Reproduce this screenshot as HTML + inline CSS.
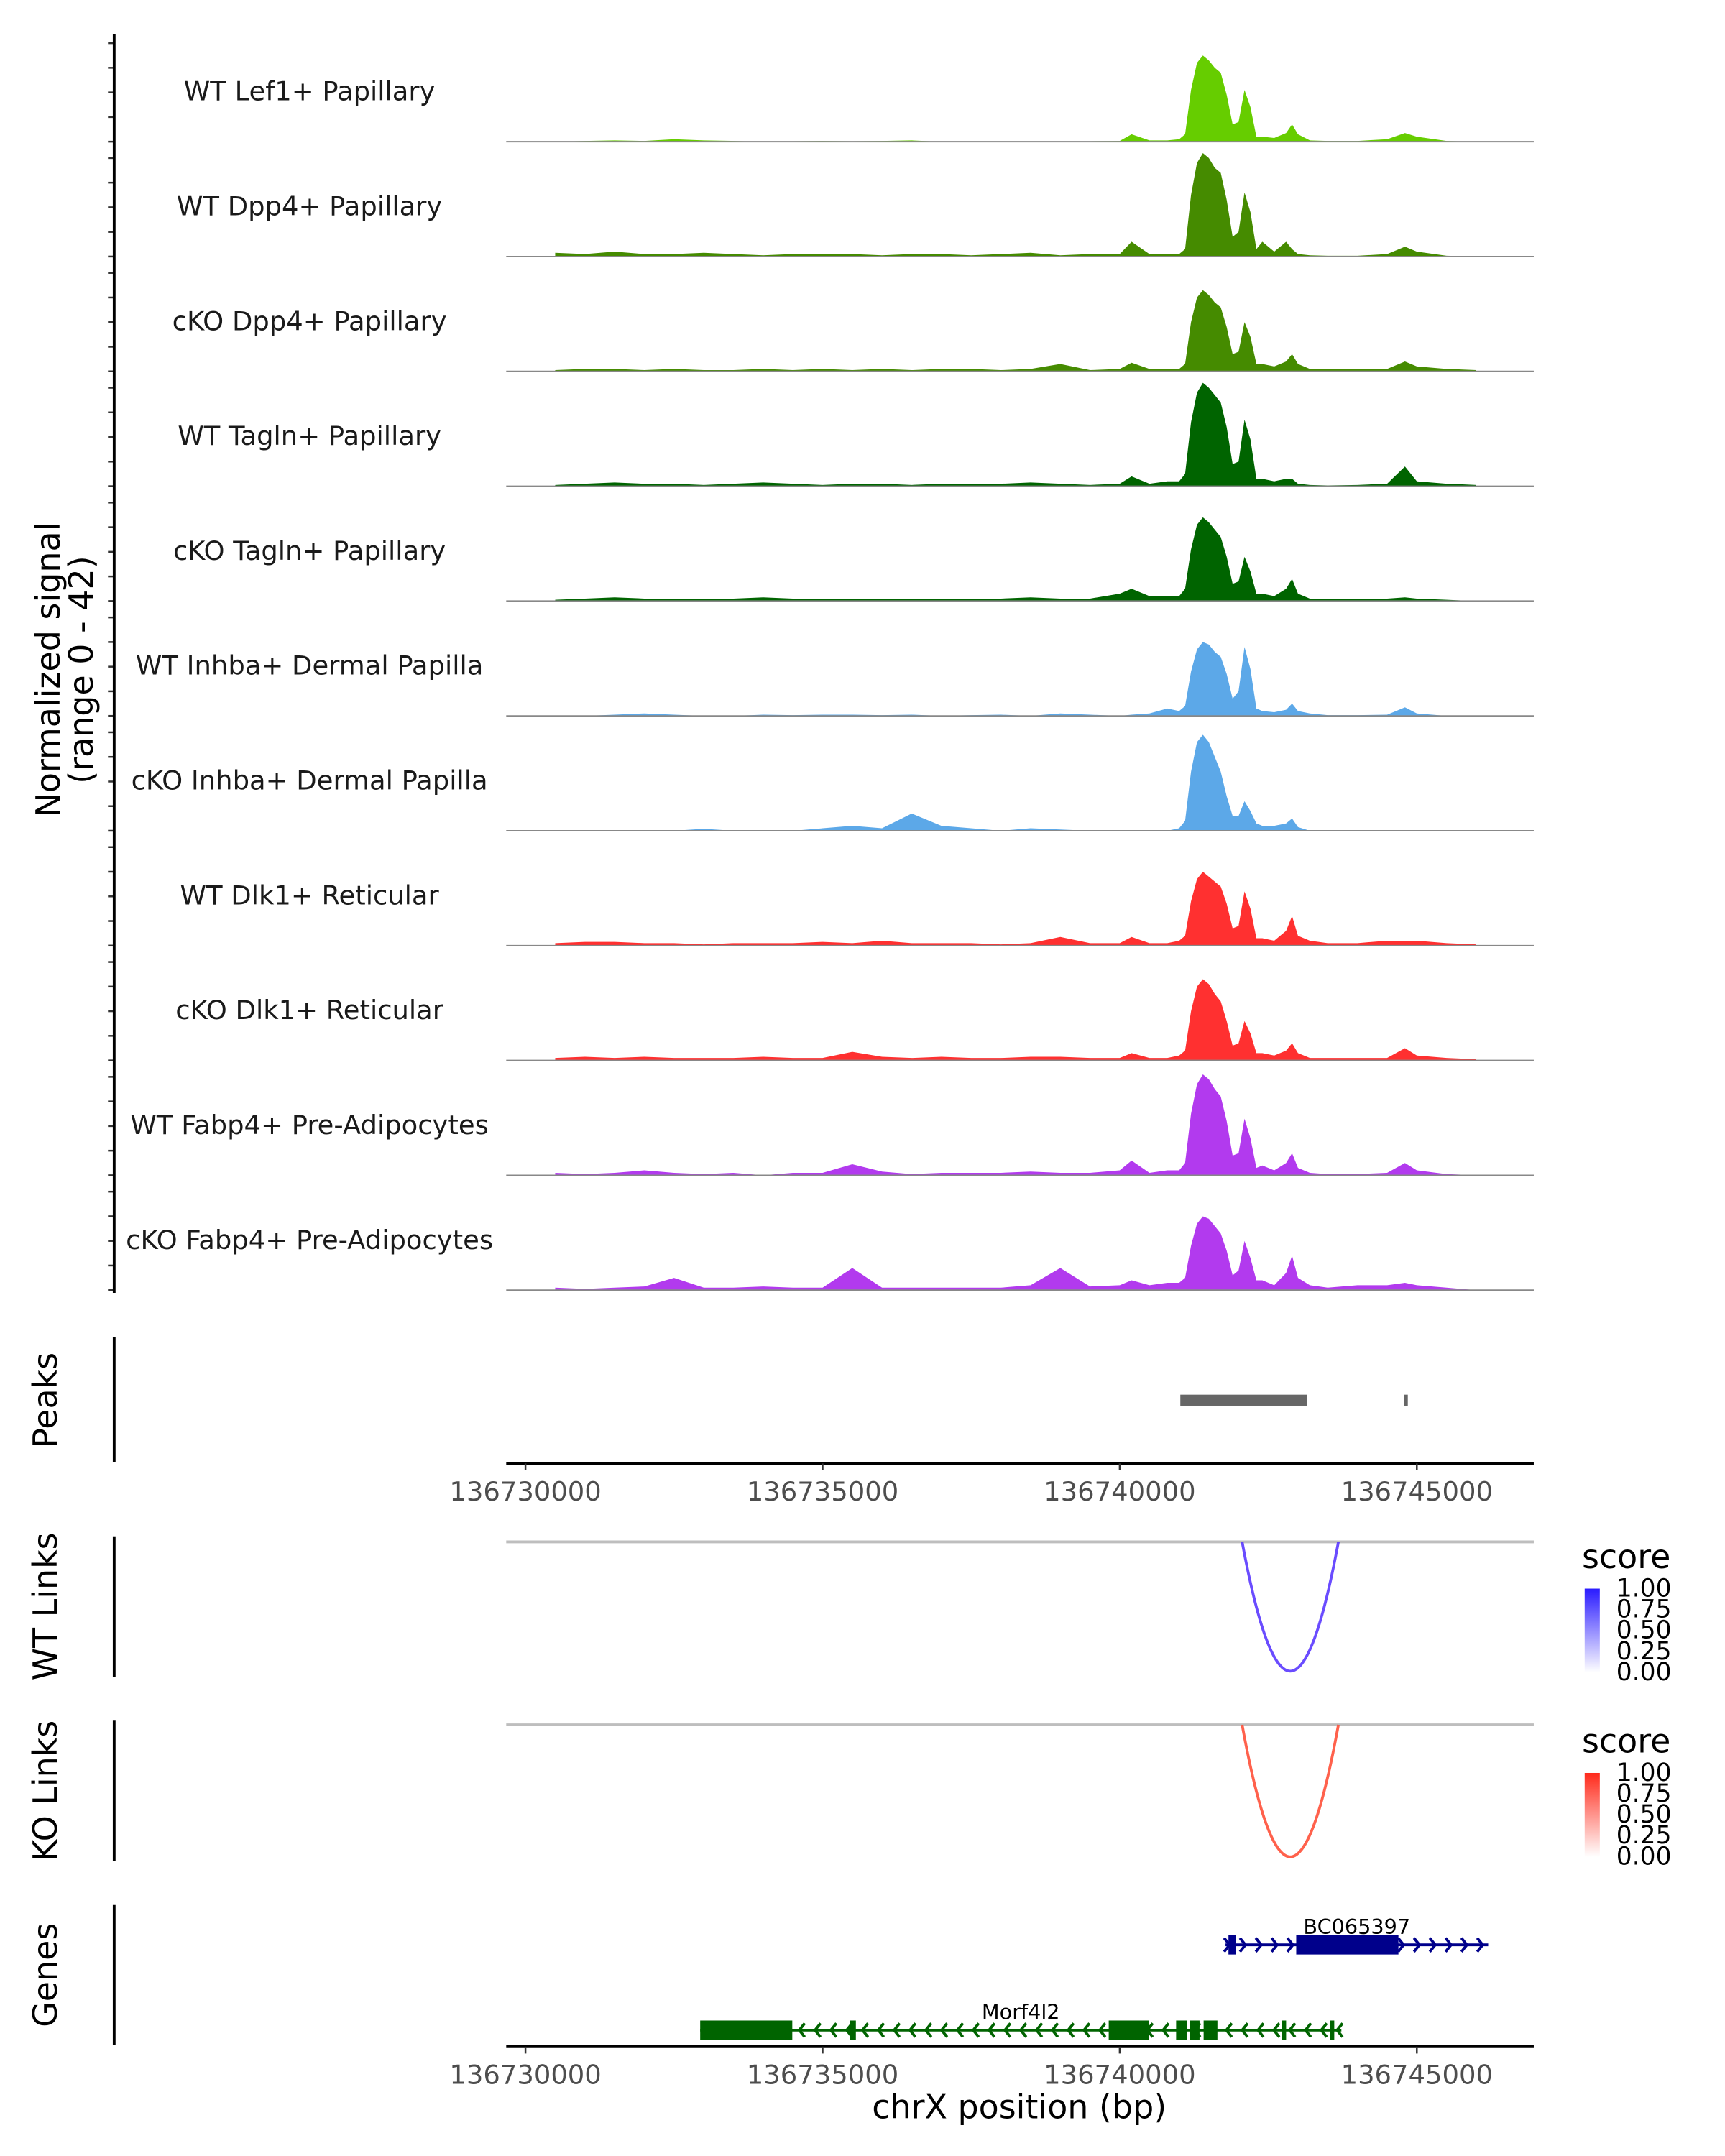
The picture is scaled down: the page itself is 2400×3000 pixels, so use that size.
<!DOCTYPE html>
<html><head><meta charset="utf-8"><style>
html,body{margin:0;padding:0;background:#fff}
svg{display:block}
text{font-family:"DejaVu Sans","Liberation Sans",sans-serif}
</style></head><body>
<svg id="chart" width="2400" height="3000" viewBox="0 0 1254 1567.5" xmlns="http://www.w3.org/2000/svg">
<defs>
<linearGradient id="gBlue" x1="0" y1="1" x2="0" y2="0"><stop offset="0" stop-color="#ffffff"/><stop offset="1" stop-color="#2a1bff"/></linearGradient>
<linearGradient id="gRed" x1="0" y1="1" x2="0" y2="0"><stop offset="0" stop-color="#ffffff"/><stop offset="1" stop-color="#ff2a1b"/></linearGradient>
</defs>
<g id="tracks"></g>
<g id="axes"></g>
</svg>
<script>
const bins=[136730500,136731000,136731500,136732000,136732500,136733000,136733500,136734000,136734500,136735000,136735500,136736000,136736500,136737000,136737500,136738000,136738500,136739000,136739500,136740000,136740200,136740500,136740800,136741000,136741100,136741200,136741300,136741400,136741500,136741600,136741700,136741800,136741900,136742000,136742100,136742200,136742300,136742400,136742600,136742800,136742900,136743000,136743200,136743500,136744000,136744500,136744800,136745000,136745500,136746000];
const trackNames=["WT Lef1+ Papillary","WT Dpp4+ Papillary","cKO Dpp4+ Papillary","WT Tagln+ Papillary","cKO Tagln+ Papillary","WT Inhba+ Dermal Papilla","cKO Inhba+ Dermal Papilla","WT Dlk1+ Reticular","cKO Dlk1+ Reticular","WT Fabp4+ Pre-Adipocytes","cKO Fabp4+ Pre-Adipocytes"];
const trackColors=["#66cd00","#458b00","#458b00","#006400","#006400","#5ca8e8","#5ca8e8","#ff3030","#ff3030","#b23aee","#b23aee"];
const sLef1WT=[0,0.3,0.5,0.3,1,0.5,0.3,0,0.2,0.3,0.2,0.3,0.5,0,0,0,0.2,0,0.2,0.3,3,0.5,0.5,1,3,21,32,35,33,30,28,19,7,8,21,14,2,2,1.5,3.5,7,3,0.5,0.3,0.3,1,3.5,2,0.3,0];
const sDpp4WT=[1.5,1,2,1,1,1.5,1,0.5,1,1,1,0.5,1,1,0.5,1,1.5,0.5,1,1,6,1,1,1,3,25,38,42,40,36,34,23,8,10,26,18,3,6,2,6,3,1,0.5,0.3,0.3,1,4,2,0.3,0];
const sDpp4KO=[0.5,1,1,0.5,1,0.5,0.5,1,0.5,1,0.5,1,0.5,1,1,0.5,1,3,0.5,1,3.5,1,1,1,3,20,30,33,31,28,26,18,7,8,20,14,3,3,2,4,7,3,1,1,1,1,4,2,1,0.5];
const sTaglnWT=[0.5,1,1.5,1,1,0.5,1,1.5,1,0.5,1,1,0.5,1,1,1,1.5,1,0.5,1,4,1,2,2,5,26,38,42,40,37,34,24,9,10,27,19,3,3,2,3,3,1,0.5,0.3,0.5,1,8,2,1,0.5];
const sTaglnKO=[0.5,1,1.5,1,1,1,1,1.5,1,1,1,1,1,1,1,1,1.5,1,1,3,5,2,2,2,5,21,31,34,32,29,26,18,7,8,18,12,3,3,2,5,9,3,1,1,1,1,1.5,1,0.5,0];
const sInhbaWT=[0,0,0.5,1,0.5,0,0,0.5,0.3,0.5,0.5,0.3,0.5,0,0.3,0.5,0,1,0.5,0,0.5,1,3,2,4,18,27,30,29,26,24,17,7,10,28,19,3,2,1.5,2.5,5,2,1,0.3,0.3,0.5,3.5,1,0,0];
const sInhbaKO=[0,0,0,0,0,0.8,0,0,0,1,2,1,7,2,1,0,1,0.5,0,0,0,0,0,1,4,24,36,39,36,30,24,14,6,6,12,8,3,2,2,3,5,1.5,0,0,0,0,0,0,0,0];
const sDlk1WT=[1,1.5,1.5,1,1,0.5,1,1,1,1.5,1,2,1,1,1,0.5,1,3.5,1,1,3.5,1,1,2,4,18,27,30,28,26,24,17,7,8,22,15,3,3,2,6,12,4,2,1,1,2,2,2,1,0.5];
const sDlk1KO=[1,1.5,1,1.5,1,1,1,1.5,1,1,3.5,1.5,1,1.5,1,1,1.5,1.5,1,1,3,1,1,2,4,20,30,33,31,27,24,16,6,7,16,11,3,3,2,4,7,3,1,1,1,1,5,2,1,0.5];
const sFabp4WT=[1,0.5,1,2,1,0.5,1,0,1,1,4.5,1.5,0.5,1,1,1,1.5,1,1,2,6,1,2,2,5,25,37,41,39,35,32,22,8,9,23,15,3,4,2,5,9,3,1,0.5,0.5,1,5,2,0.5,0];
const sFabp4KO=[1,0.5,1,1.5,5,1,1,1.5,1,1,9,1,1,1,1,1,2,9,1.5,2,4,2,3,3,5,18,27,30,29,26,23,16,6,8,20,13,4,4,2,7,14,5,2,1,2,2,3,2,1,0];
const signals=[sLef1WT,sDpp4WT,sDpp4KO,sTaglnWT,sTaglnKO,sInhbaWT,sInhbaKO,sDlk1WT,sDlk1KO,sFabp4WT,sFabp4KO];
const yTicks=[0,10,20,30,40];
const xTicks=[136730000,136735000,136740000,136745000];
const xTickLabels=["136730000","136735000","136740000","136745000"];
const peakStart=[136741020,136744790];
const peakEnd=[136743150,136744840];
const linkStart=[136742060];
const linkEnd=[136743680];
const linkScoreWT=[0.8];
const linkScoreKO=[0.8];
const legendLabels=["1.00","0.75","0.50","0.25","0.00"];
const geneNames=["BC065397","Morf4l2"];
const geneStart=[136741780,136732940];
const geneEnd=[136746200,136743730];
const geneStrand=[1,-1];
const exonStartsBC=[136741830,136742970];
const exonEndsBC=[136741950,136744690];
const exonStartsMorf=[136732940,136735460,136739815,136740949,136741180,136741412,136742730,136743540];
const exonEndsMorf=[136734490,136735560,136740486,136741134,136741343,136741644,136742800,136743610];

const NS='http://www.w3.org/2000/svg';
const svg=document.getElementById('chart');
const gT=document.getElementById('tracks');
const gA=document.getElementById('axes');
const X0=368,X1=1115;
function x(bp){return 382+(bp-136730000)*216/5000;}
const base0=103, trackStep=83.5, unit=1.79;
function y(v,i){return base0+i*trackStep-Math.min(v,42)*unit;}
function mk(tag,attrs,parent,txt){const e=document.createElementNS(NS,tag);for(const k in attrs)e.setAttribute(k,attrs[k]);if(txt!==undefined)e.textContent=txt;(parent||svg).appendChild(e);return e;}

signals.forEach((vals,i)=>{
  const b=base0+i*trackStep;
  let d='M'+x(bins[0])+','+b;
  vals.forEach((v,j)=>{d+=' L'+x(bins[j]).toFixed(2)+','+y(v,i).toFixed(2);});
  d+=' L'+x(bins[bins.length-1])+','+b+' Z';
  const p=mk('path',{d:d,fill:trackColors[i]},gT);
  
  
  const l=mk('line',{x1:X0,x2:X1,y1:b,y2:b,stroke:'#888',"stroke-width":1},gT);
  
  
  const t=mk('text',{x:225,y:b-30,"text-anchor":"middle","font-size":19.3,fill:'#1a1a1a'},gT,trackNames[i]);
  
  
  yTicks.forEach(v=>{const tk=mk('line',{x1:78.5,x2:83,y1:y(v,i),y2:y(v,i),stroke:'#333',"stroke-width":1.3},gA);
    
    });
});
[[25,940,'signal-axis-line'],[972,1063,'peaks-axis-line'],[1117,1219,'wt-links-axis-line'],[1251,1353,'ko-links-axis-line'],[1385,1487,'genes-axis-line']].forEach(a=>{
  const l=mk('line',{x1:83,x2:83,y1:a[0],y2:a[1],stroke:'#000',"stroke-width":2},gA);
  
  
});
function rot(txt,cx,cy,name,fs){const t=mk('text',{x:cx,y:cy,"text-anchor":"middle","dominant-baseline":"central","font-size":fs||24,fill:'#000',transform:'rotate(-90 '+cx+' '+cy+')'},gA,txt);
  
  }
rot('Normalized signal',35,487,'y-axis-title');
rot('(range 0 - 42)',59,487,'y-axis-subtitle');
rot('Peaks',33,1018,'peaks-title');
rot('WT Links',33,1168,'wt-links-title');
rot('KO Links',33,1302,'ko-links-title');
rot('Genes',33,1436,'genes-title');
peakStart.forEach((s,i)=>{const r=mk('rect',{x:x(s),y:1014,width:Math.max(x(peakEnd[i])-x(s),2.5),height:8,fill:'#666'},gA);
  
  });
function xaxis(yy,ly,name){
  const l=mk('line',{x1:X0,x2:X1,y1:yy,y2:yy,stroke:'#000',"stroke-width":2},gA);
  
  
  xTicks.forEach((t,i)=>{const tk=mk('line',{x1:x(t),x2:x(t),y1:yy,y2:yy+5,stroke:'#333',"stroke-width":1.3},gA);
    
    
    const tl=mk('text',{x:x(t),y:ly,"text-anchor":"middle","font-size":19.3,fill:'#4d4d4d'},gA,xTickLabels[i]);
    
    });
}
xaxis(1064,1091,'peaks-x-axis');
xaxis(1488,1515,'genes-x-axis');
const xt=mk('text',{x:741,y:1540,"text-anchor":"middle","font-size":24,fill:'#000'},gA,'chrX position (bp)');


function links(top,bottom,scores,col,name){
  const g=mk('line',{x1:X0,x2:X1,y1:top,y2:top,stroke:'#bebebe',"stroke-width":2},gA);
  
  
  linkStart.forEach((s,i)=>{
    const a=x(s),b=x(linkEnd[i]),c=(a+b)/2,h=(b-a)/2;
    let d='';
    for(let k=0;k<=60;k++){const xx=a+(b-a)*k/60;const t=(xx-c)/h;const yy=bottom-(bottom-top)*t*t;d+=(k?' L':'M')+xx.toFixed(2)+','+yy.toFixed(2);}
    const p=mk('path',{d:d,fill:'none',stroke:col,"stroke-width":2,opacity:0.4+0.6*scores[i]},gA);
    
    
  });
}
links(1121,1215,linkScoreWT,'#5533ff','wt-link');
links(1254,1350,linkScoreKO,'#ff4b33','ko-link');
function legend(ty,by,grad,name){
  const t=mk('text',{x:1150,y:ty,"font-size":24,fill:'#000'},gA,'score');
  
  
  const r=mk('rect',{x:1152,y:by,width:11,height:61,fill:'url(#'+grad+')'},gA);
  
  
  legendLabels.forEach((lb,i)=>{const yy=by+i*15.2;
    const tl=mk('text',{x:1175,y:yy,"dominant-baseline":"central","font-size":18,fill:'#000'},gA,lb);
    
    });
}
legend(1140,1155,'gBlue','wt-legend');
legend(1274,1289,'gRed','ko-legend');
function gene(i,yy,es,ee,col){
  const a=x(geneStart[i]),b=x(geneEnd[i]);
  const l=mk('line',{x1:a,x2:b,y1:yy,y2:yy,stroke:col,"stroke-width":2},gA);
  
  
  for(let xx=a+3;xx<=b;xx+=11.5){
    const dx=geneStrand[i]>0?-4:4;
    const p=mk('path',{d:'M'+(xx+dx)+','+(yy-5)+' L'+xx+','+yy+' L'+(xx+dx)+','+(yy+5),fill:'none',stroke:col,"stroke-width":2},gA);
    
    
  }
  es.forEach((s,k)=>{const r=mk('rect',{x:x(s),y:yy-7,width:Math.max(x(ee[k])-x(s),2.5),height:14,fill:col},gA);
    
    });
  const t=mk('text',{x:(a+b)/2,y:yy-8,"text-anchor":"middle","font-size":15,fill:'#000'},gA,geneNames[i]);
  
  
}
gene(0,1414,exonStartsBC,exonEndsBC,'#00008b');
gene(1,1476,exonStartsMorf,exonEndsMorf,'#006400');
</script>
</body></html>
